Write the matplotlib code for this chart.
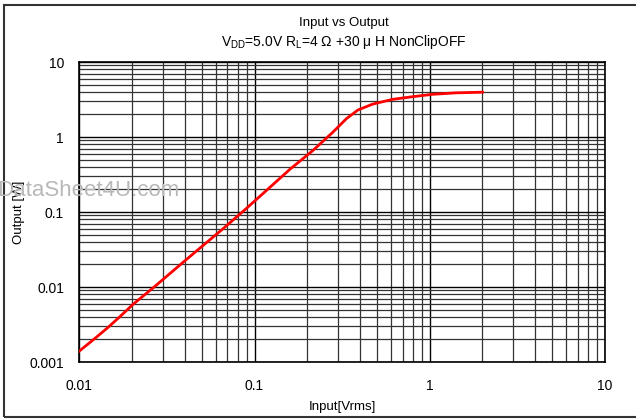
import matplotlib
matplotlib.use("Agg")
import matplotlib.pyplot as plt
from matplotlib.patches import Rectangle
from matplotlib.ticker import FuncFormatter, LogLocator, NullFormatter

plt.rcParams['font.family'] = ['Liberation Sans', 'Noto Sans CJK JP', 'DejaVu Sans']

# values
input_vrms = [0.010, 0.0123, 0.0146, 0.0167, 0.0203, 0.027, 0.0383, 0.0488, 0.0662,
              0.090, 0.122, 0.159, 0.216, 0.28, 0.334, 0.389, 0.473, 0.615, 0.80,
              1.04, 1.41, 2.0]
output_w = [0.00140, 0.00207, 0.00290, 0.00385, 0.00590, 0.0102, 0.0205, 0.0330, 0.0600,
            0.112, 0.212, 0.370, 0.665, 1.16, 1.75, 2.29, 2.75, 3.18, 3.45,
            3.71, 3.88, 3.96]

fig = plt.figure(figsize=(6.36, 4.19), dpi=100)
ax = fig.add_axes([0.1247, 0.136, 0.8265, 0.716])

ax.plot(input_vrms, output_w, color='red', lw=2, zorder=3)

ax.set_xscale('log')
ax.set_yscale('log')
ax.set_xlim(0.01, 10)
ax.set_ylim(0.001, 10)

fmt = FuncFormatter(lambda v, p: '%g' % v)
ax.xaxis.set_major_formatter(fmt)
ax.yaxis.set_major_formatter(fmt)
ax.xaxis.set_minor_locator(LogLocator(base=10, subs=range(2, 10)))
ax.yaxis.set_minor_locator(LogLocator(base=10, subs=range(2, 10)))
ax.xaxis.set_minor_formatter(NullFormatter())
ax.yaxis.set_minor_formatter(NullFormatter())

ax.grid(which='major', color='black', lw=1.0)
ax.grid(which='minor', color='#333333', lw=0.9)
ax.tick_params(which='both', length=0, labelsize=10)
ax.tick_params(axis='x', pad=12)
ax.tick_params(axis='y', pad=11)
for s in ax.spines.values():
    s.set_color('black')
    s.set_linewidth(1.2)

ax.set_xlabel('Input[Vrms]', fontsize=9.5, labelpad=6)
ax.set_ylabel('Output [W]', fontsize=9.5, labelpad=3)

fig.text(0.54, 0.945, 'Input vs Output', ha='center', va='center', fontsize=9.5)
fig.text(0.54, 0.9, r'V$\mathregular{_{DD}}$=5.0V R$\mathregular{_L}$=4 Ω +30 μ H NonClipOFF',
         ha='center', va='center', fontsize=10)

# watermark
fig.text(-0.004, 0.545, 'DataSheet4U.com', fontsize=16, color='#b8b8b8',
         va='center', ha='left', zorder=10)

fig.patches.append(Rectangle((4 / 636, 2 / 419), 1.0, 412 / 419, transform=fig.transFigure,
                             fill=False, edgecolor='#333333', lw=1.5))

fig.savefig('out.png', dpi=100)
